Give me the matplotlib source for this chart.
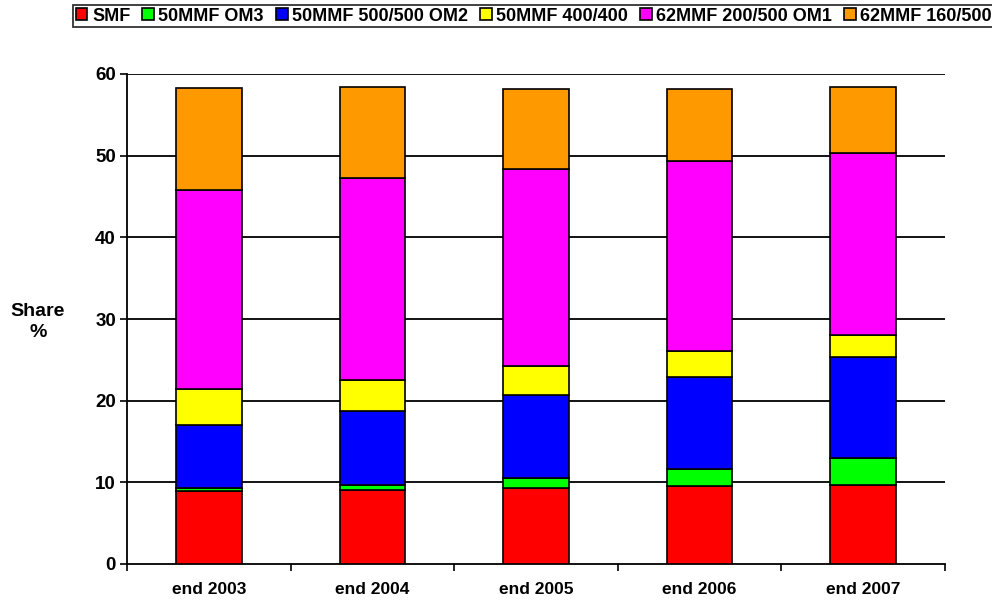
import numpy as np
import matplotlib.pyplot as plt

plt.rcParams['font.family'] = ['Liberation Sans', 'DejaVu Sans']

years = ["end 2003", "end 2004", "end 2005", "end 2006", "end 2007"]
series = ["SMF", "50MMF OM3", "50MMF 500/500 OM2", "50MMF 400/400",
          "62MMF 200/500 OM1", "62MMF 160/500"]
colors = ["#ff0000", "#00ff00", "#0000ff", "#ffff00", "#ff00ff", "#ff9900"]

smf = [8.9, 9.1, 9.3, 9.5, 9.7]
om3 = [0.35, 0.55, 1.2, 2.1, 3.3]
om2 = [7.8, 9.1, 10.2, 11.3, 12.3]
mmf400 = [4.4, 3.8, 3.5, 3.2, 2.7]
om1 = [24.4, 24.7, 24.2, 23.2, 22.3]
mmf160 = [12.4, 11.1, 9.8, 8.9, 8.1]
values = [smf, om3, om2, mmf400, om1, mmf160]

fig = plt.figure(figsize=(9.92, 6.01), dpi=100)
ax = fig.add_axes([127/992, 1 - 564/601, (945-127)/992, (564-74)/601])

x = np.arange(len(years))
bottom = np.zeros(len(years))
handles = []
for name, vals, c in zip(series, values, colors):
    b = ax.bar(x, vals, 0.4, bottom=bottom, color=c, edgecolor='black',
               linewidth=1.2, label=name, zorder=3)
    handles.append(b)
    bottom += np.array(vals)

ax.set_xlim(-0.5, len(years) - 0.5)
ax.set_ylim(0, 60)
ax.set_yticks(range(0, 61, 10))
ax.set_yticklabels([str(v) for v in range(0, 61, 10)], fontsize=13.5, fontweight='bold')
for v in range(10, 61, 10):
    ax.axhline(v, color='black', linewidth=1.3, zorder=1)

ax.set_xticks(x)
ax.set_xticklabels(years, fontsize=12.5, fontweight='bold')
ax.tick_params(axis='x', which='major', length=0, pad=13)
ax.set_xticks(np.arange(-0.5, len(years), 1), minor=True)
ax.tick_params(axis='x', which='minor', length=5, direction='out', width=1.2)
ax.tick_params(axis='y', length=5, width=1.2, direction='out', pad=3)

for s in ['top', 'right']:
    ax.spines[s].set_visible(False)
ax.spines['left'].set_linewidth(1.3)
ax.spines['bottom'].set_linewidth(1.3)

fig.text(38/992, 1 - 322/601, "Share\n%", ha='center', va='center',
         fontsize=14, fontweight='bold', linespacing=1.35)

# legend box runs past the right edge, as in the original
leg = fig.legend(handles=handles, labels=series, loc='upper left',
                 bbox_to_anchor=(73/992, 1 - 5/601), ncol=6, frameon=True,
                 fancybox=False, edgecolor='black',
                 prop={'weight': 'bold', 'size': 13},
                 handlelength=0.65, handleheight=0.65, handletextpad=0.25,
                 columnspacing=0.66, borderpad=0.15, borderaxespad=0)
leg.get_frame().set_linewidth(1.3)

fig.savefig("out.png", dpi=100)
